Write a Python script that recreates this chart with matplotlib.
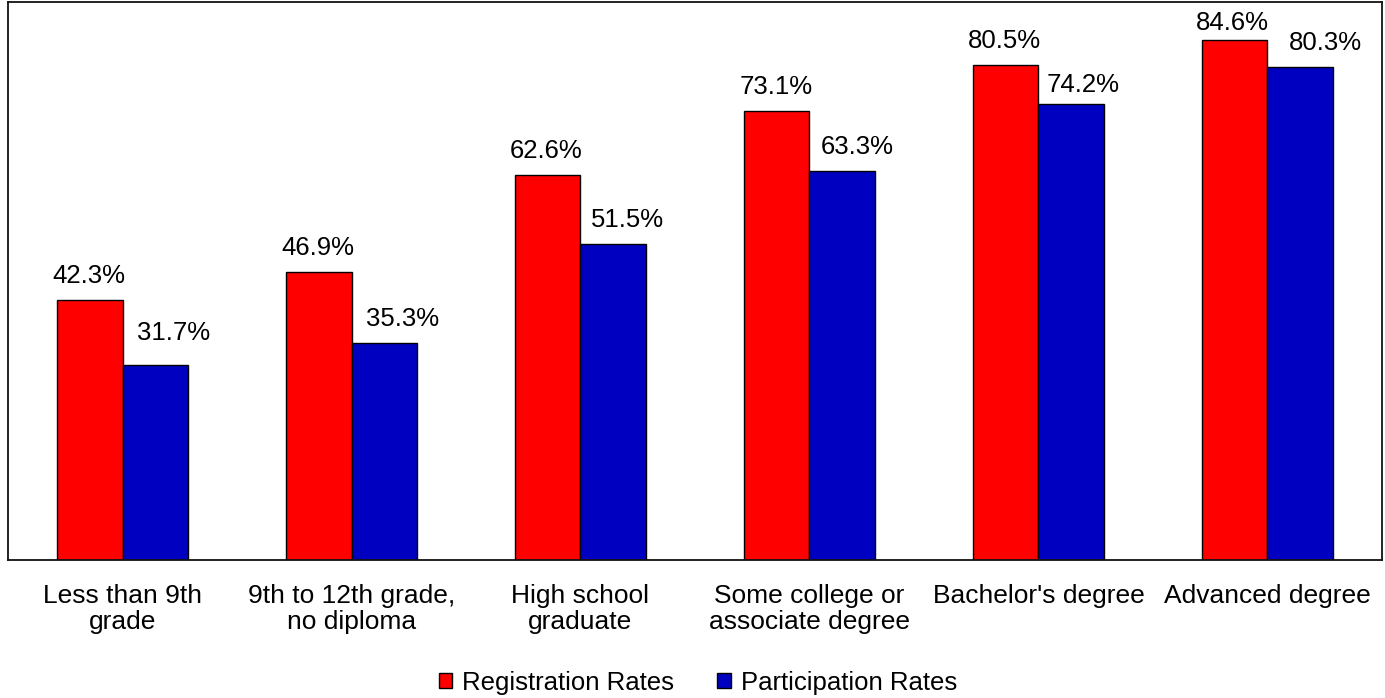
import matplotlib

matplotlib.use("Agg")
import matplotlib.pyplot as plt
import numpy as np

categories = [
    "Less than 9th\ngrade",
    "9th to 12th grade,\nno diploma",
    "High school\ngraduate",
    "Some college or\nassociate degree",
    "Bachelor's degree",
    "Advanced degree",
]
registration = [42.3, 46.9, 62.6, 73.1, 80.5, 84.6]
participation = [31.7, 35.3, 51.5, 63.3, 74.2, 80.3]

# label nudges in pixels (dx, gap above bar), as placed in the original
red_nudge = [(-1, 17), (-1, 17), (-1, 17), (0, 17), (-1, 17), (-2, 10)]
blue_nudge = [(18, 25), (18, 17), (14, 17), (15, 17), (12, 12), (25, 17)]

plt.rcParams["font.family"] = ["Liberation Sans", "DejaVu Sans"]

fig = plt.figure(figsize=(13.85, 6.98), dpi=100)
ax = fig.add_axes([0.0058, 0.1977, 0.9920, 0.7994])

x = np.arange(len(categories))
width = 0.288
red_bars = ax.bar(x - width / 2, registration, width, color="#ff0000",
                  edgecolor="black", linewidth=1.0, label="Registration Rates")
blue_bars = ax.bar(x + width / 2, participation, width, color="#0000c0",
                   edgecolor="black", linewidth=1.0, label="Participation Rates")

for bars, vals, nudges in [(red_bars, registration, red_nudge),
                           (blue_bars, participation, blue_nudge)]:
    for b, v, (dx, dy) in zip(bars, vals, nudges):
        ax.annotate(f"{v:.1f}%", (b.get_x() + b.get_width() / 2, v),
                    xytext=(dx, dy), textcoords="offset pixels",
                    ha="center", va="baseline", fontsize=18.5)

ax.set_xlim(-0.5, len(categories) - 0.5)
ax.set_ylim(0, 90.8)
ax.set_yticks([])
ax.set_xticks(x)
ax.set_xticklabels(categories, fontsize=19, linespacing=1.1)
ax.tick_params(axis="x", length=0, pad=17)
for s in ax.spines.values():
    s.set_linewidth(1.3)
    s.set_color("#111111")

ax.legend(loc="center", bbox_to_anchor=(0.504, 0.0215), bbox_transform=fig.transFigure,
          ncol=2, frameon=False, fontsize=18.5, handlelength=0.52, handleheight=0.52,
          handletextpad=0.4, columnspacing=1.67)

fig.savefig("out.png", dpi=100)
